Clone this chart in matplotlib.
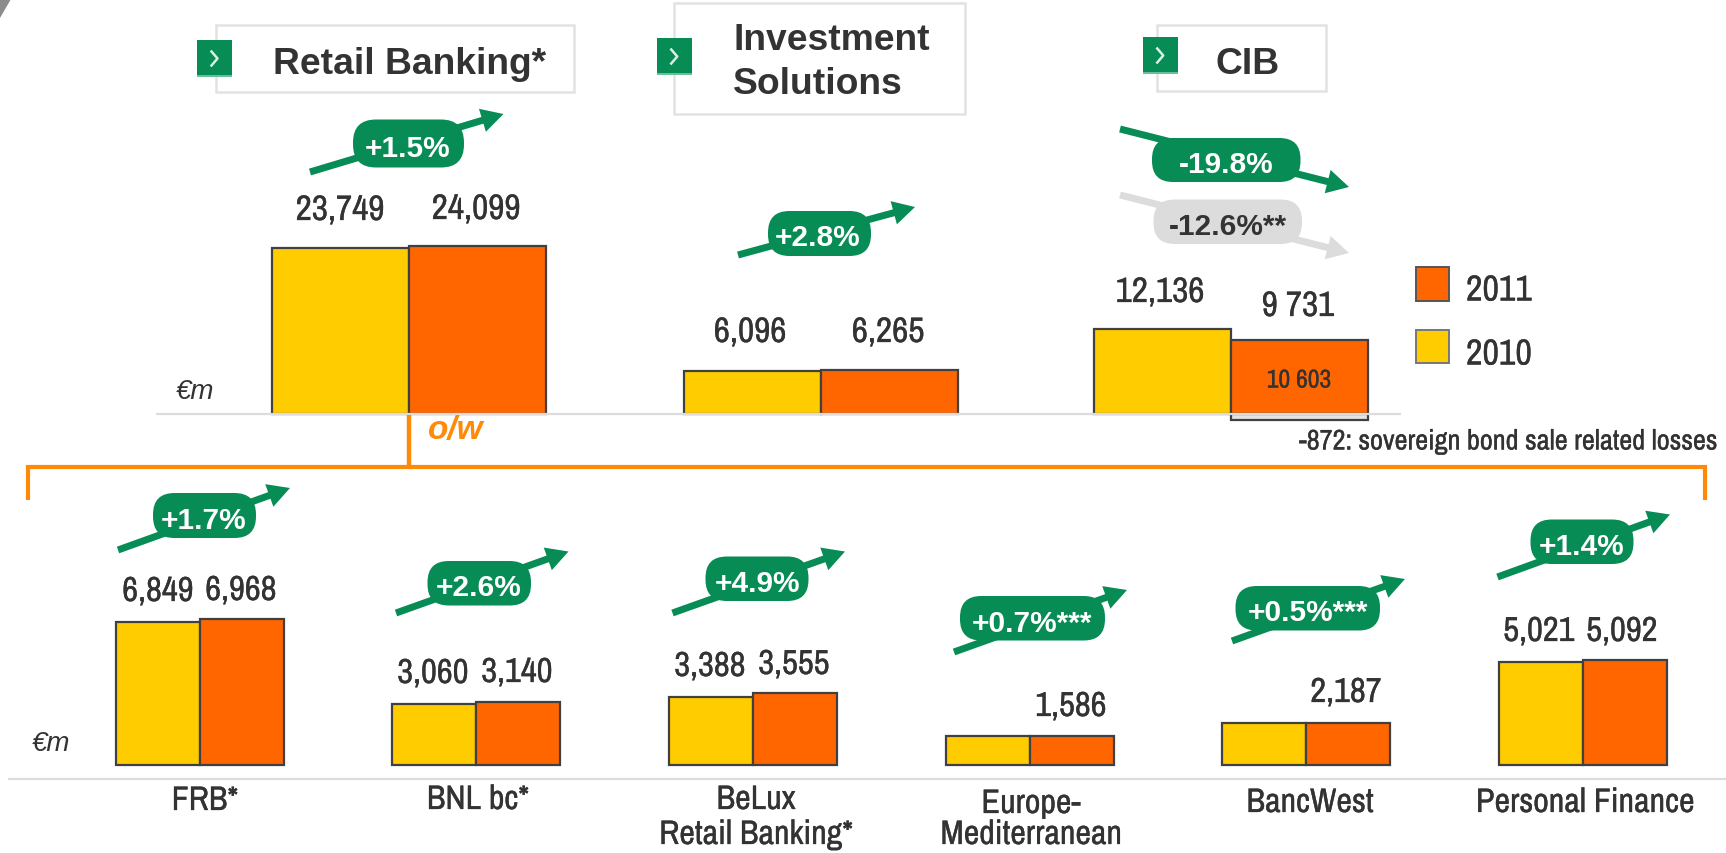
import matplotlib
matplotlib.use("Agg")
import matplotlib.pyplot as plt
import matplotlib.patheffects as pe
from matplotlib.patches import FancyArrow, FancyBboxPatch, Polygon, Rectangle

# values (EUR m)
top_groups = ["Retail Banking", "Investment Solutions", "CIB"]
top_2010 = [23749, 6096, 12136]
top_2011 = [24099, 6265, 10603]
sovereign_loss = [-872]
top_labels = ["23,749", "24,099", "6,096", "6,265", "12,136", "9 731"]

bottom_groups = ["FRB*", "BNL bc*", "BeLux\nRetail Banking*", "Europe-\nMediterranean", "BancWest", "Personal Finance"]
bottom_2010 = [6849, 3060, 3388, 1575, 2176, 5021]
bottom_2011 = [6968, 3140, 3555, 1586, 2187, 5092]
bottom_labels = ["6,849", "6,968", "3,060", "3,140", "3,388", "3,555", "", "1,586", "", "2,187", "5,021", "5,092"]

top_pct = ["+1.5%", "+2.8%", "-19.8%", "-12.6%**"]
bottom_pct = ["+1.7%", "+2.6%", "+4.9%", "+0.7%***", "+0.5%***", "+1.4%"]

W, H = 1726, 854
YELLOW = "#FFCC00"
ORANGE = "#FF6600"
GREEN = "#078C55"
GREY = "#DCDCDC"
DARK = "#333333"
BRACKET = "#FF8A0A"
EDGE = "#404040"

NARROW = ["Archivo Narrow", "Liberation Sans"]
SANS = "Liberation Sans"
# the reference's narrow text is a little heavier than the regular weight
HEAVY = [pe.withStroke(linewidth=0.2, foreground=DARK)]

fig = plt.figure(figsize=(W / 100, H / 100), dpi=100)

# overlay in pixel coordinates for boxes, text and arrows
ax = fig.add_axes([0, 0, 1, 1], zorder=3)
ax.set_xlim(0, W)
ax.set_ylim(H, 0)
ax.axis("off")
ax.patch.set_alpha(0)

# top bars, the scale puts value 0 on y=415
top_base, top_scale = 415, 0.00699
ax_top = fig.add_axes([0, 0, 1, 1], zorder=1)
ax_top.set_xlim(0, W)
ax_top.set_ylim((top_base - H) / top_scale, top_base / top_scale)
ax_top.axis("off")
top_centers = [409, 821, 1230.5]
top_width = 137
ax_top.bar([c - top_width / 2 for c in top_centers], top_2010, top_width, color=YELLOW, edgecolor=EDGE, linewidth=1.6)
ax_top.bar([c + top_width / 2 for c in top_centers], top_2011, top_width, color=ORANGE, edgecolor=EDGE, linewidth=1.6)
ax_top.bar(top_centers[2] + top_width / 2, sovereign_loss, top_width, color="#E4E4E4", edgecolor=EDGE, linewidth=1.6)

# bottom bars, this axis does not start at zero: 247 sits on y=766
bot_base, bot_scale, bot_min = 766, 0.02166, 247
ax_bot = fig.add_axes([0, 0, 1, 1], zorder=2)
ax_bot.patch.set_alpha(0)
ax_bot.set_xlim(0, W)
ax_bot.set_ylim(bot_min + (bot_base - H) / bot_scale, bot_min + bot_base / bot_scale)
ax_bot.axis("off")
bot_centers = [200, 476, 752.5, 1030, 1305.5, 1582.5]
bot_width = 84
ax_bot.bar([c - bot_width / 2 for c in bot_centers], [v - bot_min for v in bottom_2010], bot_width, bottom=bot_min,
           color=YELLOW, edgecolor=EDGE, linewidth=1.6)
ax_bot.bar([c + bot_width / 2 for c in bot_centers], [v - bot_min for v in bottom_2011], bot_width, bottom=bot_min,
           color=ORANGE, edgecolor=EDGE, linewidth=1.6)

# axis lines
ax.plot([156, 1401], [415, 415], color=GREY, lw=1.6, solid_capstyle="butt")
ax.plot([8, W], [780, 780], color=GREY, lw=1.6, solid_capstyle="butt")

# orange bracket
ax.plot([27.5, 27.5, 1705, 1705], [501, 467.5, 467.5, 501], color=BRACKET, lw=3, solid_joinstyle="miter", solid_capstyle="butt")
ax.plot([409, 409], [416, 467.5], color=BRACKET, lw=3.2, solid_capstyle="butt")
ax.text(456, 431, "o/w", color=BRACKET, fontsize=24, fontweight="bold", fontstyle="italic", family=SANS, ha="center", va="center")

# corner mark
ax.add_patch(Polygon([(0, 0), (11, 0), (0, 19)], closed=True, color="#8C8C8C", lw=0))


def header(box, icon):
    x0, y0, x1, y1 = box
    ax.add_patch(Rectangle((x0, y0), x1 - x0, y1 - y0, fc="white", ec="#E2E2E2", lw=1.8))
    ix0, iy0, ix1, iy1 = icon
    ax.add_patch(Rectangle((ix0, iy0), ix1 - ix0, iy1 - iy0, fc=GREEN, ec="none", zorder=3))
    ax.plot([ix0, ix1], [iy1 - 1, iy1 - 1], color="#6FBF9B", lw=1.4, zorder=3, solid_capstyle="butt")
    cx, cy = (ix0 + ix1) / 2, (iy0 + iy1) / 2
    ax.plot([cx - 3, cx + 3, cx - 3], [cy - 7, cy, cy + 7], color="#D8F0E4", lw=1.8, zorder=4)


def header_text(x, y, s, ha="center"):
    ax.text(x, y, s, color=DARK, fontsize=26.8, fontweight="bold", family=SANS, ha=ha, va="center")


header((216, 26, 574, 92.5), (197, 41, 232, 78))
header((674, 4, 965, 115), (656.5, 39, 692, 76))
header((1157, 26, 1326, 92), (1142.5, 38, 1178, 75))
header_text(410, 64, "Retail Banking*")
header_text(733, 41, "Investment", ha="left")
header_text(733, 85, "Solutions", ha="left")
header_text(1248, 64, "CIB")


def pct(text, start, tip, pill, center, color=GREEN, tcolor="white"):
    ax.add_patch(FancyArrow(start[0], start[1], tip[0] - start[0], tip[1] - start[1], width=7, head_width=24, head_length=22,
                            length_includes_head=True, fc=color, ec="none", zorder=4))
    x0, y0, x1, y1 = pill
    r = (y1 - y0) / 2 - 1
    ax.add_patch(FancyBboxPatch((x0 + r, y0 + r), x1 - x0 - 2 * r, y1 - y0 - 2 * r, boxstyle="round,pad=%f,rounding_size=%f" % (r, r),
                                fc=color, ec="none", zorder=5))
    ax.text(center[0], center[1] + 3, text, color=tcolor, fontsize=21.5, fontweight="bold", family=SANS, ha="center", va="center", zorder=6)


pct(top_pct[0], (310, 173), (503.5, 115), (353, 120.5, 464, 168.5), (408, 146))
pct(top_pct[1], (738, 256), (915, 208), (768, 212, 871, 257), (818, 235))
pct(top_pct[2], (1120, 130), (1349, 188), (1152, 139, 1300.5, 183), (1226, 162))
pct(top_pct[3], (1120, 196), (1349, 254), (1153.5, 200.5, 1302, 245), (1228, 224), GREY, DARK)
pct(bottom_pct[0], (118, 551), (290, 489), (153, 494, 256, 539), (204, 518))
pct(bottom_pct[1], (396, 614), (568.5, 552.5), (427.5, 562, 531, 606.5), (479, 585))
pct(bottom_pct[2], (672.5, 614), (845, 552.5), (705.5, 557.5, 808.5, 602), (757, 581))
pct(bottom_pct[3], (954, 653), (1127, 591), (960, 597, 1105, 641.5), (1032, 621))
pct(bottom_pct[4], (1232, 642), (1405, 580), (1235.5, 587, 1380, 631.5), (1308, 610))
pct(bottom_pct[5], (1497.5, 578), (1670, 515.5), (1530.5, 520.5, 1633.5, 565), (1582, 544))


def narrow(x, y, s, size, ha="center"):
    ax.text(x, y, s, color=DARK, fontsize=size, family=NARROW, ha=ha, va="center", path_effects=HEAVY)


# value labels
top_label_xy = [(340, 208), (476, 207), (750, 330), (888, 330), (1160, 290), (1298, 304)]
for s, (x, y) in zip(top_labels, top_label_xy):
    narrow(x, y + 3, s, 25.5)
narrow(1299, 381, "10 603", 18.5)

bot_label_xy = [(158, 590), (241, 589), (433, 672), (517, 671), (710, 665), (794, 663),
                (0, 0), (1071, 705), (0, 0), (1346, 691), (1539, 630), (1622, 630)]
for s, (x, y) in zip(bottom_labels, bot_label_xy):
    if s:
        narrow(x, y + 2, s, 25)

# category labels, the second line is kept clear of the bottom edge
cat_xy = [(205, 799), (478, 798), (756, 798), (1031, 802), (1310, 801), (1585, 801)]
for s, (x, y) in zip(bottom_groups, cat_xy):
    parts = s.split("\n")
    narrow(x, y + 3, parts[0], 24.5)
    if len(parts) > 1:
        narrow(x, 836, parts[1], 24.5)

narrow(1299, 443, "-872: sovereign bond sale related losses", 20.4, ha="left")
ax.text(195, 392, "€m", color=DARK, fontsize=20, fontstyle="italic", family=SANS, ha="center", va="center")
ax.text(51, 744, "€m", color=DARK, fontsize=20, fontstyle="italic", family=SANS, ha="center", va="center")

# legend
ax.add_patch(Rectangle((1416, 268), 33, 33.5, fc=ORANGE, ec="#555555", lw=1.4))
ax.add_patch(Rectangle((1416, 331), 33, 33, fc=YELLOW, ec="#777777", lw=1.4))
narrow(1466, 291, "2011", 26, ha="left")
narrow(1466, 355, "2010", 26, ha="left")

fig.savefig("out.png", dpi=100, facecolor="white")
